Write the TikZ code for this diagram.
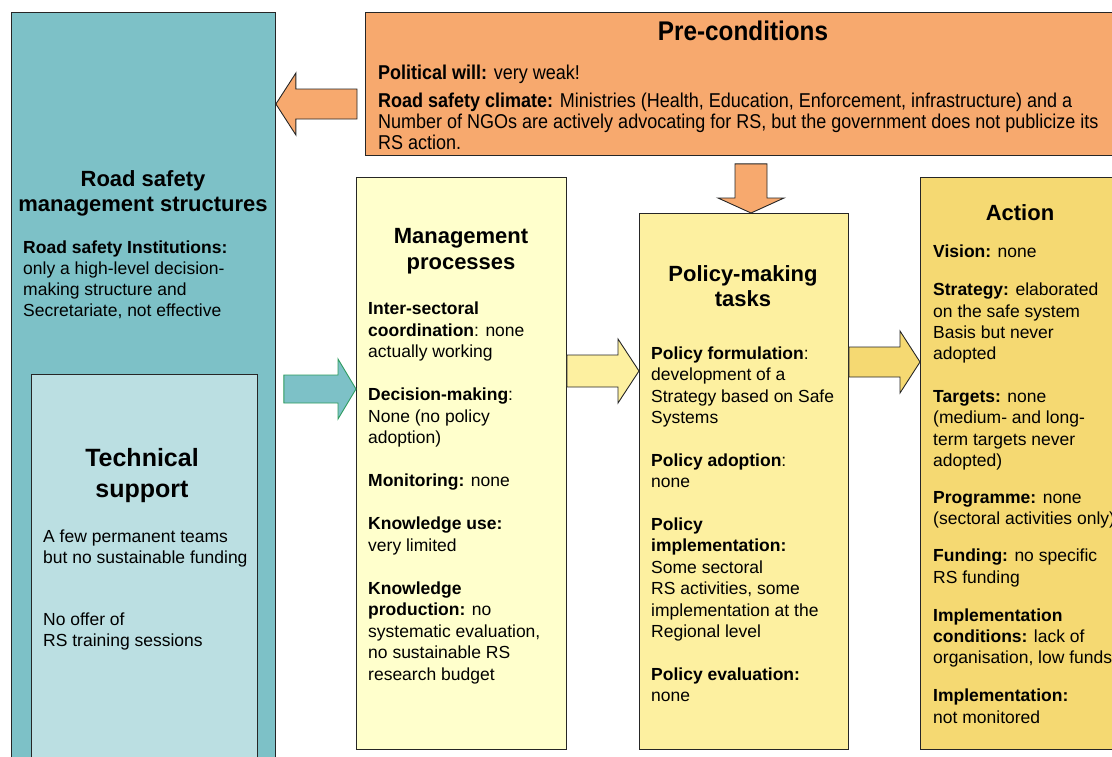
\documentclass[tikz,border=0pt]{standalone}
\usepackage{fontspec}
\setmainfont{Liberation Sans}
\newfontfamily\narrowfont{Liberation Sans}[FakeStretch=0.9]
\usetikzlibrary{calc}

\definecolor{rsteal}{HTML}{7DC1C7}
\definecolor{techblue}{HTML}{BBDFE2}
\definecolor{preorange}{HTML}{F7A96E}
\definecolor{mgmtyellow}{HTML}{FFFFCC}
\definecolor{policyyellow}{HTML}{FDF0A0}
\definecolor{actionyellow}{HTML}{F5D972}
\definecolor{arrowgreen}{HTML}{2E9B5E}

\newcommand\blockarrow[6][]{%
  \path ($(#3)!#6!(#2)$) coordinate (ab);
  \draw[#1] ($(#2)!#4!90:(#3)$) -- ($(ab)!#4!90:(#3)$) -- ($(ab)!#5!90:(#3)$) -- (#3)
    -- ($(ab)!#5!-90:(#3)$) -- ($(ab)!#4!-90:(#3)$) -- ($(#2)!#4!-90:(#3)$) -- cycle;}

\begin{document}
\begin{tikzpicture}[x=1pt, y=-1pt,
  box/.style={draw=black!85, line width=0.9pt, anchor=north west, inner sep=0},
  title/.style={font=\bfseries\fontsize{22}{25}\selectfont, align=center, anchor=base, inner sep=0},
  body/.style={font=\fontsize{17.5}{21.5}\selectfont, align=left, anchor=base west, inner sep=0},
  arrowline/.style={draw=black!85, line width=0.9pt, line join=miter}]
    \useasboundingbox (0,0) rectangle (1112,756);
    \clip (0,0) rectangle (1112,756);

    \node[box, fill=rsteal, minimum width=264, minimum height=780] (rsms) at (11,12) {};
    \node[box, fill=techblue, minimum width=226, minimum height=400] (tech) at (31,374) {};
    \node[box, fill=preorange, minimum width=756, minimum height=143] (pre) at (365,12) {};
    \node[box, fill=mgmtyellow, minimum width=210, minimum height=572] (mgmt) at (356,177) {};
    \node[box, fill=policyyellow, minimum width=209, minimum height=536] (policy) at (639,213) {};
    \node[box, fill=actionyellow, minimum width=201, minimum height=572] (action) at (920,177) {};

    \path (pre.west |- 0,104) ++(-8,0) coordinate (a1tail);
    \coordinate (a1tip) at (rsms.east |- a1tail);
    \path (rsms.east |- 0,389) ++(8,0) coordinate (a2tail);
    \coordinate (a2tip) at (mgmt.west |- a2tail);
    \coordinate (a3tail) at (mgmt.east |- 0,371);
    \coordinate (a3tip) at (policy.west |- a3tail);
    \coordinate (a4tail) at (policy.east |- 0,362);
    \coordinate (a4tip) at (action.west |- a4tail);
    \path (751,0 |- pre.south) ++(0,8) coordinate (a5tail);
    \coordinate (a5tip) at (751,0 |- policy.north);

    \blockarrow[arrowline, fill=preorange]{a1tail}{a1tip}{15pt}{31pt}{20pt}
    \blockarrow[arrowline, draw=arrowgreen, fill=rsteal]{a2tail}{a2tip}{14pt}{30pt}{18pt}
    \blockarrow[arrowline, fill=policyyellow]{a3tail}{a3tip}{16pt}{32pt}{21pt}
    \blockarrow[arrowline, fill=actionyellow]{a4tail}{a4tip}{15pt}{31pt}{20pt}
    \blockarrow[arrowline, fill=preorange]{a5tail}{a5tip}{16pt}{33pt}{15pt}

    % base anchors sit on the last line
    \node[title] (rsmstitle) at (143,211) {Road safety\\management structures};
    \node[title, font=\bfseries\fontsize{25}{31}\selectfont] (techtitle) at (142,497) {Technical\\support};
    \node[title, font=\narrowfont\bfseries\fontsize{27}{28}\selectfont] (pretitle) at (743,40) {Pre-conditions};
    \node[title, font=\bfseries\fontsize{22}{26}\selectfont] (mgmttitle) at (461,269) {Management\\processes};
    \node[title] (policytitle) at (743,306) {Policy-making\\tasks};
    \node[title] (actiontitle) at (1020,220) {Action};

    \node[body, font=\fontsize{17.5}{21}\selectfont] (rsmstext) at (23,316) {\textbf{Road safety Institutions:}\\
      only a high-level decision-\\making structure and\\Secretariate, not effective};
    \node[body, font=\fontsize{17.5}{21}\selectfont] (techtext) at (43,646) {A few permanent teams\\
      but no sustainable funding\\[41pt]No offer of\\RS training sessions};
    \node[body, font=\narrowfont\fontsize{20}{21}\selectfont] (pretext) at (378,149) {\textbf{Political will:} very weak!\\[7pt]
      \textbf{Road safety climate:} Ministries (Health, Education, Enforcement, infrastructure) and a\\
      Number of NGOs are actively advocating for RS, but the government does not publicize its\\
      RS action.};
    \node[body] (mgmttext) at (368,680) {\textbf{Inter-sectoral}\\\textbf{coordination}: none\\actually working\\[21.5pt]
      \textbf{Decision-making}:\\None (no policy\\adoption)\\[21.5pt]
      \textbf{Monitoring:} none\\[21.5pt]
      \textbf{Knowledge use:}\\very limited\\[21.5pt]
      \textbf{Knowledge}\\\textbf{production:} no\\systematic evaluation,\\no sustainable RS\\research budget};
    \node[body] (policytext) at (651,701.5) {\textbf{Policy formulation}:\\development of a\\Strategy based on Safe\\Systems\\[21pt]
      \textbf{Policy adoption}:\\none\\[21pt]
      \textbf{Policy}\\\textbf{implementation:}\\Some sectoral\\RS activities, some\\implementation at the\\Regional level\\[21pt]
      \textbf{Policy evaluation:}\\none};
    \node[body, font=\fontsize{17.5}{21.2}\selectfont] (actiontext) at (933,723) {\textbf{Vision:} none\\[17pt]
      \textbf{Strategy:} elaborated\\on the safe system\\Basis but never\\adopted\\[22pt]
      \textbf{Targets:} none\\(medium- and long-\\term targets never\\adopted)\\[16pt]
      \textbf{Programme:} none\\(sectoral activities only)\\[16pt]
      \textbf{Funding:} no specific\\RS funding\\[17pt]
      \textbf{Implementation}\\\textbf{conditions:} lack of\\organisation, low funds\\[17pt]
      \textbf{Implementation:}\\not monitored};
\end{tikzpicture}
\end{document}
